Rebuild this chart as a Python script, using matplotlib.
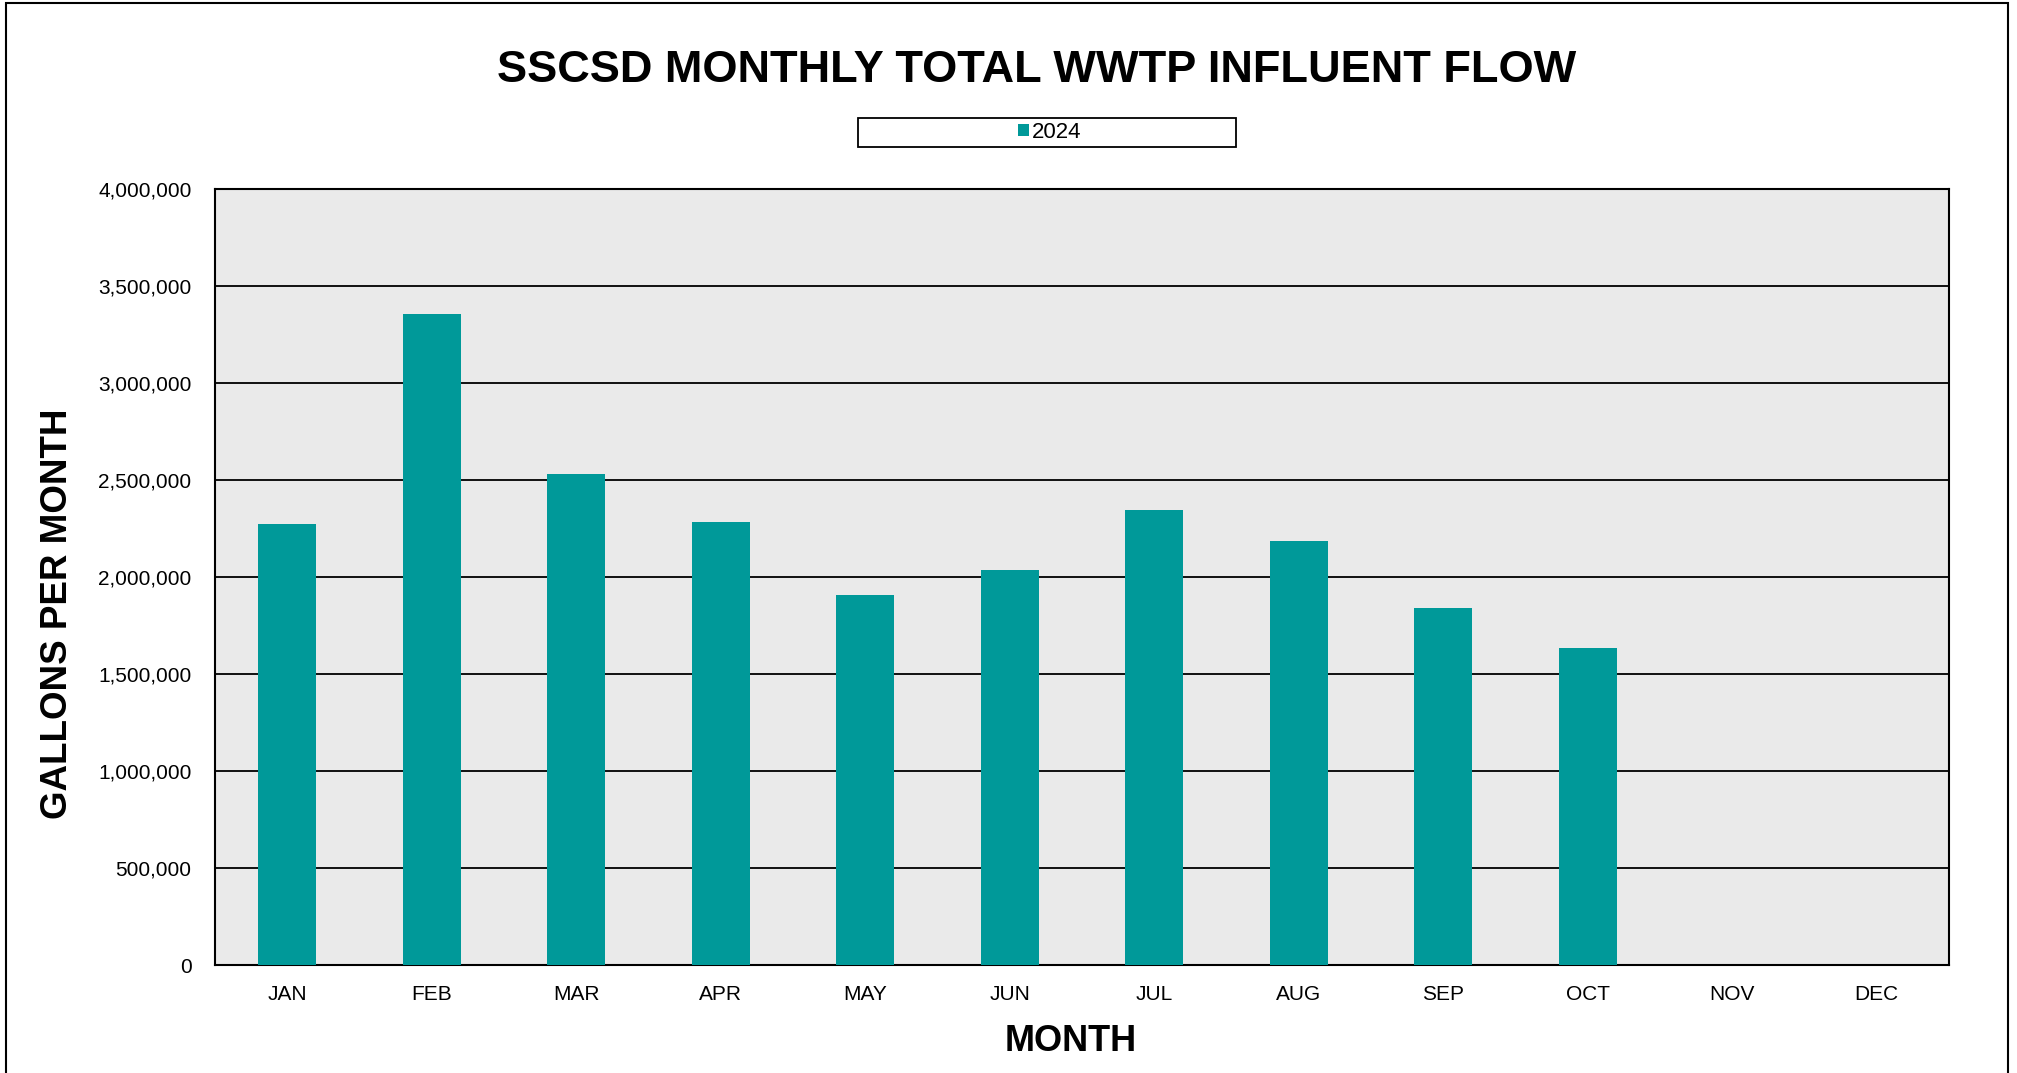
"""
Monthly total WWTP influent flow bar chart (SSCSD, 2024).
"""

import matplotlib.pyplot as plt
from matplotlib.patches import Rectangle
from matplotlib.ticker import FuncFormatter

months = ["JAN", "FEB", "MAR", "APR", "MAY", "JUN",
          "JUL", "AUG", "SEP", "OCT", "NOV", "DEC"]
flow_2024 = [2275000, 3357000, 2531000, 2285000, 1908000, 2038000,
             2346000, 2186000, 1840000, 1635000, None, None]
series_name = "2024"
y_ticks = [0, 500000, 1000000, 1500000, 2000000, 2500000, 3000000, 3500000, 4000000]

BAR_COLOR = "#009999"

plt.rcParams["font.family"] = ["Liberation Sans", "DejaVu Sans"]

fig = plt.figure(figsize=(20.17, 10.73), dpi=100)
ax = fig.add_axes([0.1066, 0.1006, 0.8597, 0.7234])
ax.set_facecolor("#EAEAEA")

x = list(range(len(months)))
heights = [v if v is not None else 0 for v in flow_2024]
ax.bar(x, heights, width=0.4, color=BAR_COLOR, label=series_name, zorder=3)

ax.set_xlim(-0.5, len(months) - 0.5)
ax.set_ylim(0, 4000000)
ax.set_yticks(y_ticks)
ax.yaxis.set_major_formatter(FuncFormatter(lambda v, p: f"{int(v):,}"))
ax.set_xticks(x)
ax.set_xticklabels(months)
ax.tick_params(axis="both", length=0, labelsize=15)
ax.tick_params(axis="y", pad=17)
ax.tick_params(axis="x", pad=14)
ax.grid(axis="y", color="black", linewidth=1.3, zorder=1)
for s in ax.spines.values():
    s.set_linewidth(1.5)
    s.set_color("black")

# titles
fig.text(0.514, 0.934, "SSCSD MONTHLY TOTAL WWTP INFLUENT FLOW",
         ha="center", va="center", fontsize=32.5, fontweight="bold")
fig.text(0.531, 0.029, "MONTH", ha="center", va="center",
         fontsize=26, fontweight="bold")
fig.text(0.0287, 0.428, "GALLONS PER MONTH", ha="center", va="center",
         rotation=90, fontsize=26.5, fontweight="bold")

# legend box
fig.patches.append(Rectangle((0.4254, 0.863), 0.1874, 0.0273,
                             transform=fig.transFigure, fill=False,
                             edgecolor="black", linewidth=1.3))
fig.legend(loc="center", bbox_to_anchor=(0.5205, 0.8765), frameon=False,
           fontsize=16, handlelength=0.5, handleheight=0.5,
           handletextpad=0.15, borderpad=0)

# outer chart frame
fig.patches.append(Rectangle((0.003, -0.01), 0.9925, 1.007,
                             transform=fig.transFigure, fill=False,
                             edgecolor="black", linewidth=1.5))

fig.savefig("out.png", dpi=100)
